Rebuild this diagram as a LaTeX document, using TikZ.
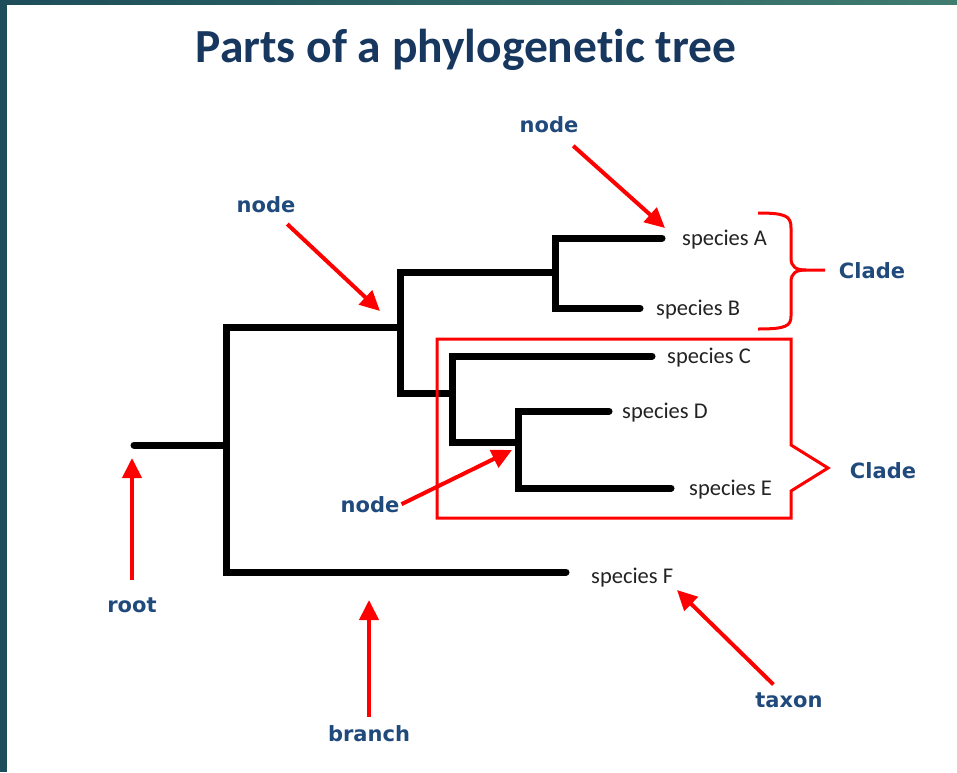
\documentclass[tikz,border=0pt]{standalone}
\usepackage{fontspec}
\setmainfont{Carlito}[Ligatures={NoCommon}]
\newfontfamily\lblfont{DejaVu Sans}
\usetikzlibrary{arrows.meta}

\definecolor{slideteal}{RGB}{29,77,90}
\definecolor{slidegreen}{RGB}{64,124,112}
\definecolor{titleblue}{RGB}{23,55,94}
\definecolor{labelblue}{RGB}{33,74,124}
\definecolor{speciesgray}{RGB}{35,35,35}

\tikzset{
  treeline/.style={line width=7pt, line cap=round, line join=miter},
  pointer/.style={red, line width=4pt, -{Triangle[length=20pt, width=19pt]}},
  cladeline/.style={red, line width=3pt, line join=miter},
  partlabel/.style={font=\lblfont\bfseries\fontsize{21}{25}\selectfont, text=labelblue, inner sep=2pt},
  taxlabel/.style={font=\fontsize{22.5}{27}\selectfont, text=speciesgray, anchor=base west, inner sep=0pt}
}

\begin{document}
\begin{tikzpicture}[x=1pt, y=-1pt]
  % slide background
  \useasboundingbox (0,0) rectangle (957,772);
  \fill[white] (0,0) rectangle (957,772);
  \shade[left color=slideteal, right color=slidegreen] (0,0) rectangle (957,4);
  \fill[slideteal] (0,0) rectangle (7,772);
  % title
  \node[font=\bfseries\fontsize{47.5}{56}\selectfont, text=titleblue, anchor=base] (title) at (466,62) {Parts of a phylogenetic tree};

  % tree
  \draw[treeline] (134,445) -- (226,445);
  \draw[treeline] (566,572) -- (226,572) -- (226,327) -- (400,327);
  \draw[treeline] (555,272) -- (400,272) -- (400,393) -- (452,393);
  \draw[treeline] (662,238) -- (555,238) -- (555,308) -- (640,308);
  \draw[treeline] (652,356) -- (452,356) -- (452,442) -- (518,442);
  \draw[treeline] (609,411) -- (518,411) -- (518,488) -- (671,488);

  % taxa
  \node[taxlabel] (spA) at (682,245) {species A};
  \node[taxlabel] (spB) at (656,315) {species B};
  \node[taxlabel] (spC) at (667,363) {species C};
  \node[taxlabel] (spD) at (622,418) {species D};
  \node[taxlabel] (spE) at (689,495) {species E};
  \node[taxlabel] (spF) at (591,583) {species F};

  % clades
  \draw[cladeline] (758,213) .. controls (786,213) and (791,216) .. (791,228)
    -- (791,258) .. controls (791,267) and (796,270) .. (806,270) -- (825,270);
  \draw[cladeline] (806,270) .. controls (796,270) and (791,273) .. (791,282)
    -- (791,316) .. controls (791,326) and (786,329) .. (758,329);
  \draw[cladeline] (791,445) -- (828,468) -- (791,491) -- (791,518) -- (437,518)
    -- (437,339) -- (791,339) -- cycle;
  \node[partlabel, anchor=base] (cladeAB) at (872,278) {Clade};
  \node[partlabel, anchor=base] (cladeCDE) at (883,478) {Clade};

  % labels and arrows
  \coordinate (tipTop) at (665,228);
  \coordinate (tipMid) at (380,311);
  \coordinate (tipLow) at (512,450);
  \coordinate (tipRoot) at (132,458);
  \coordinate (tipBranch) at (369,600);
  \coordinate (tipTaxon) at (677,590);
  \node[partlabel, anchor=base] (nodeTop) at (549,132) {node};
  \node[partlabel, anchor=base] (nodeMid) at (266,212) {node};
  \node[partlabel, anchor=base] (nodeLow) at (370,512) {node};
  \node[partlabel, anchor=base] (rootLbl) at (132,612) {root};
  \node[partlabel, anchor=base] (branchLbl) at (369,741) {branch};
  \node[partlabel, anchor=base] (taxonLbl) at (789,707) {taxon};
  \draw[pointer, shorten <=17pt] (nodeTop) -- (tipTop);
  \draw[pointer, shorten <=14pt] (nodeMid) -- (tipMid);
  \draw[pointer] (nodeLow.east) -- (tipLow);
  \draw[pointer, shorten <=15pt] (rootLbl) -- (tipRoot);
  \draw[pointer, shorten <=6pt] (branchLbl) -- (tipBranch);
  \draw[pointer, shorten <=8pt] (taxonLbl) -- (tipTaxon);
\end{tikzpicture}
\end{document}
